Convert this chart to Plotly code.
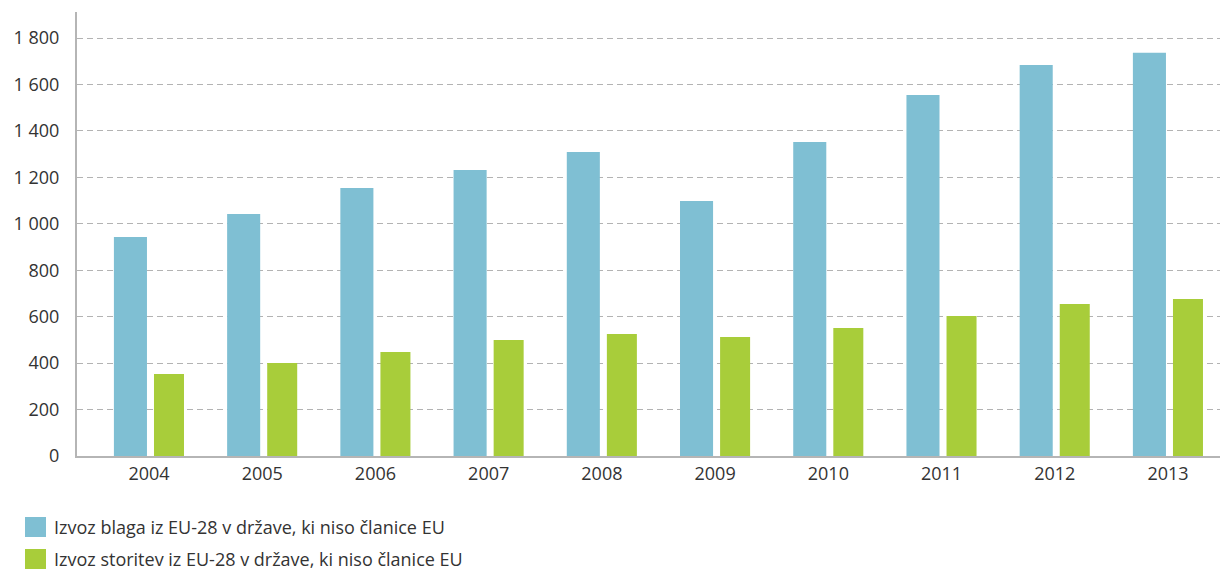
import plotly.graph_objects as go

years = ["2004", "2005", "2006", "2007", "2008", "2009", "2010", "2011", "2012", "2013"]
goods = [943, 1042, 1154, 1232, 1309, 1098, 1352, 1555, 1684, 1736]
services = [353, 400, 448, 500, 525, 512, 551, 603, 655, 676]
y_ticks = [0, 200, 400, 600, 800, 1000, 1200, 1400, 1600, 1800]
y_tick_labels = ["0", "200", "400", "600", "800", "1 000", "1 200", "1 400", "1 600", "1 800"]
names = ["Izvoz blaga iz EU-28 v države, ki niso članice EU",
         "Izvoz storitev iz EU-28 v države, ki niso članice EU"]
colors = ["#7fbfd3", "#a8cd3a"]

FONT = "Open Sans"
TXT = "#333333"
# page has an 8px body margin: figure pixel = viewport pixel - 8
W, H = 1220, 564
ML, MT, MB = 69, 4, 116
PW, PH = W - ML, H - MT - MB

fig = go.Figure()
fig.add_trace(go.Bar(x=years, y=goods, name=names[0], marker_color=colors[0],
                     offset=-0.31, width=0.292, marker_line_width=0, showlegend=False))
fig.add_trace(go.Bar(x=years, y=services, name=names[1], marker_color=colors[1],
                     offset=0.044, width=0.265, marker_line_width=0, showlegend=False))

fig.update_layout(
    width=W, height=H,
    margin=dict(l=ML, r=0, t=MT, b=MB),
    plot_bgcolor="white", paper_bgcolor="white",
    barmode="overlay",
    font=dict(family=FONT, size=18, color=TXT),
)
fig.update_xaxes(type="category", range=[-0.636, 9.53], showgrid=False,
                 showline=True, linecolor="#b5b5b5", linewidth=2,
                 ticks="", tickfont=dict(size=18, color=TXT))
fig.update_yaxes(range=[0, 1912], tickvals=y_ticks, ticktext=y_tick_labels,
                 showgrid=True, gridcolor="#b3b3b3", griddash="6px,4px", gridwidth=1,
                 showline=True, linecolor="#b5b5b5", linewidth=2, zeroline=False,
                 ticks="", ticklabelstandoff=12, tickfont=dict(size=18, color=TXT))

# custom legend (positions in viewport pixels of the reference, converted)
legend_y = [527 - 8, 559 - 8]
for i in range(2):
    yc = legend_y[i]
    fig.add_shape(type="rect", xref="paper", yref="paper",
                  x0=(25 - 8 - ML) / PW, x1=(46 - 8 - ML) / PW,
                  y0=(H - MB - (yc + 10)) / PH, y1=(H - MB - (yc - 10)) / PH,
                  fillcolor=colors[i], line_width=0)
    fig.add_annotation(xref="paper", yref="paper", x=(52 - 8 - ML) / PW,
                       y=(H - MB - yc) / PH, text=names[i], showarrow=False,
                       xanchor="left", yanchor="middle",
                       font=dict(family=FONT, size=18, color=TXT))

fig.write_html("out.html")
